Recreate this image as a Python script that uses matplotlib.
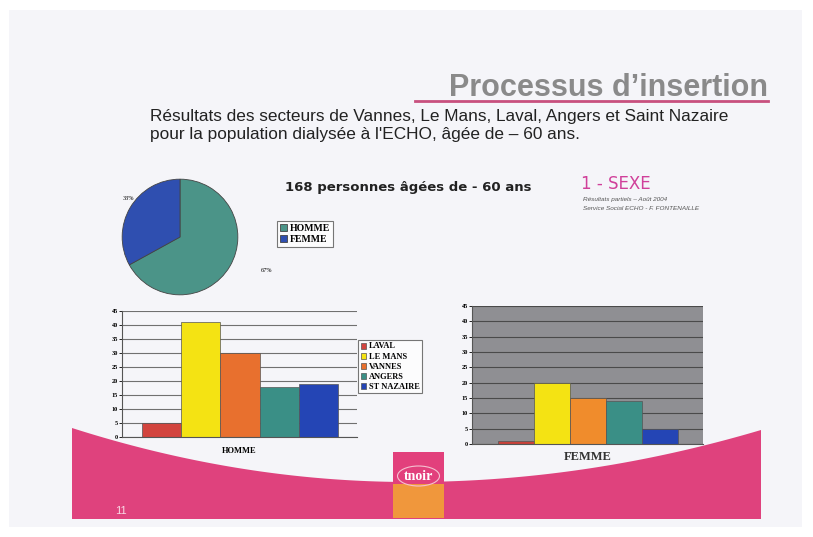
import matplotlib
matplotlib.use("Agg")
import matplotlib.pyplot as plt
import numpy as np
from matplotlib.patches import Rectangle, Polygon, Ellipse

W, H = 813, 537

# ---- data ----
pie_labels = ["HOMME", "FEMME"]
pie_values = [67, 33]
sectors = ["LAVAL", "LE MANS", "VANNES", "ANGERS", "ST NAZAIRE"]
homme_values = [5, 41, 30, 18, 19]
femme_values = [1, 20, 15, 14, 5]
yticks = [0, 5, 10, 15, 20, 25, 30, 35, 40, 45]

pie_colors = ["#4b9488", "#2f4fb0"]
bar_colors = ["#d2443e", "#f4e313", "#e8702e", "#3a8f86", "#2445b5"]
femme_colors = ["#c8423a", "#f4e313", "#f08c2c", "#3a8f86", "#2445b5"]

fig = plt.figure(figsize=(W / 100, H / 100), dpi=100, facecolor="white")

def fx(x):
    return x / W

def fy(y):
    return 1 - y / H

def ax_px(l, t, r, b):
    return fig.add_axes([fx(l), fy(b), (r - l) / W, (b - t) / H])

# background layer
bg = fig.add_axes([0, 0, 1, 1])
bg.set_xlim(0, W)
bg.set_ylim(H, 0)
bg.axis("off")
bg.add_patch(Rectangle((9, 10), 793, 517, facecolor="#f5f5f9", edgecolor="none"))

# pink band with curved top
xs = np.linspace(72, 761, 200)
xc = 410
ytop = np.where(xs < xc, 482 - 54 * ((xs - xc) / (xc - 72)) ** 2,
                482 - 52 * ((xs - xc) / (761 - xc)) ** 2)
poly = list(zip(xs, ytop)) + [(761, 519), (72, 519)]
bg.add_patch(Polygon(poly, closed=True, facecolor="#df427d", edgecolor="none"))
# logo
bg.add_patch(Rectangle((393, 452), 51, 32, facecolor="#e2407c", edgecolor="none"))
bg.add_patch(Rectangle((393, 484), 51, 34, facecolor="#f0973c", edgecolor="none"))
bg.add_patch(Ellipse((418.5, 476), 42, 20, facecolor="none", edgecolor="#f5c0d0", lw=0.8))
bg.text(418.5, 476, "tnoir", color="white", fontsize=10, fontweight="bold",
        family="Liberation Serif", ha="center", va="center")
bg.text(115, 511, "11", color="#f8d8e4", fontsize=8, ha="left", va="center",
        family="Liberation Sans")

# title
bg.text(768, 88, "Processus d\u2019insertion", color="#8a8a8a", fontsize=22,
        fontweight="bold", family="Liberation Sans", ha="right", va="center")
bg.plot([415, 768], [101, 101], color="#c8507e", lw=2)
bg.text(150, 116, "Résultats des secteurs de Vannes, Le Mans, Laval, Angers et Saint Nazaire",
        fontsize=12.4, family="Liberation Sans", color="#222222", ha="left", va="center")
bg.text(150, 134, "pour la population dialysée à l'ECHO, âgée de \u2013 60 ans.",
        fontsize=12.4, family="Liberation Sans", color="#222222", ha="left", va="center")

bg.text(285, 187, "168 personnes âgées de - 60 ans", fontsize=9.5, fontweight="bold",
        family="DejaVu Sans", color="#222222", ha="left", va="center")
bg.text(581, 184, "1 - SEXE", fontsize=12, family="DejaVu Sans", color="#d0409a",
        ha="left", va="center")
bg.text(583, 199, "Résultats partiels \u2013 Août 2004", fontsize=4.6, style="italic",
        family="Liberation Sans", color="#555555", ha="left", va="center")
bg.text(583, 208, "Service Social ECHO - F. FONTENAILLE", fontsize=4.6, style="italic",
        family="Liberation Sans", color="#555555", ha="left", va="center")

# ---- pie ----
pax = ax_px(121, 178, 239, 296)
wedges, _ = pax.pie(pie_values, colors=pie_colors, startangle=90, counterclock=False,
                    wedgeprops=dict(edgecolor="#444444", linewidth=0.6))
pax.set_aspect("equal")
pax.set_xlim(-1.02, 1.02)
pax.set_ylim(-1.02, 1.02)
bg.text(128, 199, "33%", fontsize=4.5, family="Liberation Serif", ha="center", va="center")
bg.text(266, 270, "67%", fontsize=4.5, family="Liberation Serif", ha="center", va="center")
leg = fig.legend(wedges, pie_labels, loc="upper left",
                 bbox_to_anchor=(fx(277), fy(221)), frameon=True, fancybox=False,
                 prop=dict(family="Liberation Serif", weight="bold", size=7),
                 handlelength=0.7, handleheight=0.7, handletextpad=0.3,
                 borderpad=0.3, labelspacing=0.2, borderaxespad=0)
leg.get_frame().set_edgecolor("#555555")
leg.get_frame().set_linewidth(0.8)
leg.get_frame().set_facecolor("white")
leg.set_zorder(10)

pos = np.arange(len(sectors))

def style_bar_ax(ax):
    ax.set_ylim(0, 45)
    ax.set_yticks(yticks)
    ax.set_xticks([])
    for s in ["top", "right"]:
        ax.spines[s].set_visible(False)
    ax.tick_params(axis="y", labelsize=4.5, length=2, width=0.6, pad=1)
    for lab in ax.get_yticklabels():
        lab.set_family("Liberation Serif")
        lab.set_fontweight("bold")
    ax.set_axisbelow(True)

# ---- HOMME ----
hax = ax_px(122, 311, 357, 437)
hax.patch.set_alpha(0)
hb = hax.bar(pos, homme_values, width=1.0, color=bar_colors, edgecolor="#555555", linewidth=0.5)
hax.set_xlim(-1.01, 4.98)
style_bar_ax(hax)
hax.yaxis.grid(True, color="#707070", linewidth=0.8)
hax.spines["left"].set_color("#555555")
hax.spines["bottom"].set_color("#555555")
hax.set_xlabel("HOMME", fontsize=6, family="Liberation Serif", fontweight="bold", labelpad=7)
leg2 = fig.legend(hb, sectors, loc="upper left", bbox_to_anchor=(fx(358), fy(340)),
                  frameon=True, fancybox=False,
                  prop=dict(family="Liberation Serif", weight="bold", size=6),
                  handlelength=0.7, handleheight=0.7, handletextpad=0.3,
                  borderpad=0.3, labelspacing=0.25, borderaxespad=0)
leg2.get_frame().set_edgecolor("#555555")
leg2.get_frame().set_linewidth(0.8)
leg2.get_frame().set_facecolor("white")

# ---- FEMME ----
fax = ax_px(472, 306, 703, 444)
fax.set_facecolor("#8f8f93")
fax.bar(pos, femme_values, width=1.0, color=femme_colors, edgecolor="#555555", linewidth=0.5)
fax.set_xlim(-1.22, 5.19)
style_bar_ax(fax)
fax.yaxis.grid(True, color="#4a4a4a", linewidth=0.8)
fax.spines["left"].set_color("#555555")
fax.spines["bottom"].set_color("#555555")
fax.set_xlabel("FEMME", fontsize=9, family="Liberation Serif", fontweight="bold",
               labelpad=5, color="#333333")

fig.savefig("out.png", dpi=100, facecolor="white")
